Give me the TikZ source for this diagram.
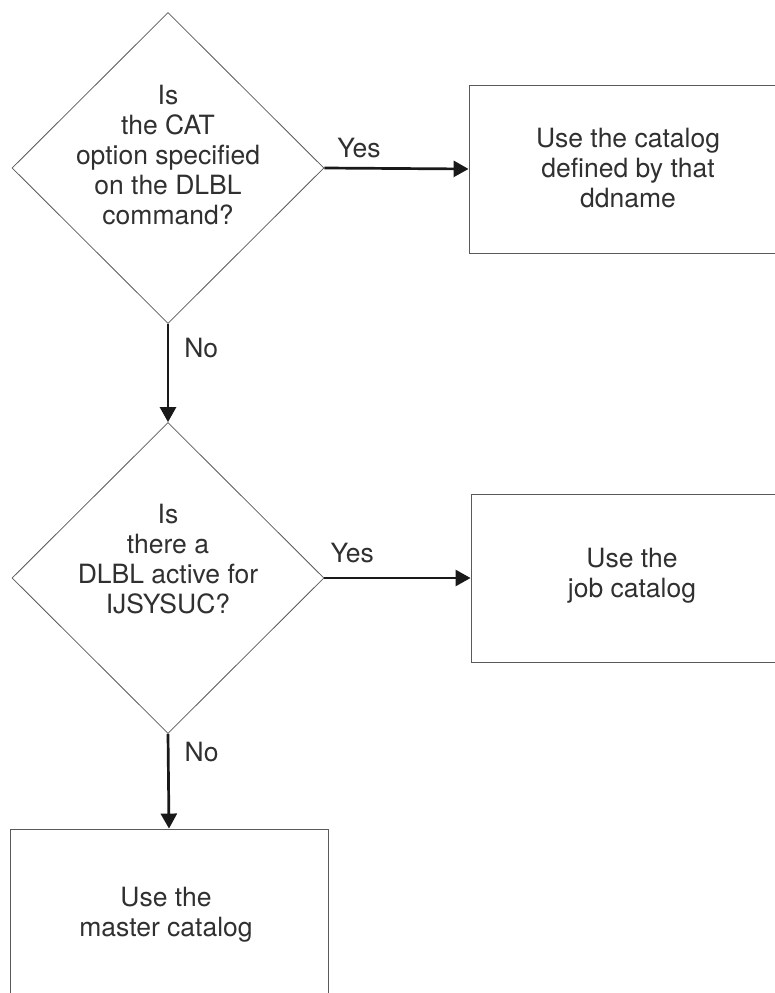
\documentclass[tikz,border=0pt]{standalone}
\usepackage{fontspec}
\setmainfont{TeX Gyre Heros}
\usetikzlibrary{shapes.geometric,arrows.meta}
\definecolor{ink}{HTML}{303030}
\definecolor{frame}{HTML}{5A5A5A}
\tikzset{
  decision/.style={diamond, draw=frame, line width=0.8pt, aspect=1, inner sep=0pt,
    minimum width=312pt, minimum height=311pt},
  action/.style={rectangle, draw=frame, line width=0.9pt, inner sep=0pt,
    minimum width=318pt, minimum height=168pt},
  caption/.style={align=center, text=ink, inner sep=0pt,
    font=\fontsize{26.5}{30}\selectfont},
  flow/.style={draw=black!90, line width=2.7pt,
    -{Triangle[length=15pt,width=16pt]}},
  answer/.style={text=ink, inner sep=0pt, font=\fontsize{26.5}{30}\selectfont}
}
\begin{document}
\begin{tikzpicture}[x=1pt,y=-1pt]
\useasboundingbox (0,0) rectangle (775,993);
\clip (0,0) rectangle (775,993);
\fill[white] (0,0) rectangle (775,993);

% decisions
\node[decision] (catopt) at (168,168) {};
\node[caption] at (168,155) {Is\\the CAT\\option specified\\on the DLBL\\command?};
\node[decision] (ijsys) at (168,578) {};
\node[caption] at (168,559) {Is\\there a\\DLBL active for\\IJSYSUC?};

% actions
\node[action] (ddcat) at (628,169) {};
\node[caption] at (628,168) {Use the catalog\\defined by that\\ddname};
\node[action] (jobcat) at (630,578) {};
\node[caption] at (632,576) {Use the\\job catalog};
\node[action] (mastercat) at (169,913) {};
\node[caption] at (166,915) {Use the\\master catalog};

% connectors
\draw[flow] (catopt.east) -- node[answer, pos=0.24, anchor=base, yshift=10.5pt] {Yes} (ddcat.west);
\draw[flow] (catopt.south) -- node[answer, pos=0.34, anchor=base west, xshift=15pt] {No} (ijsys.north);
\draw[flow] (ijsys.east) -- node[answer, pos=0.19, anchor=base, yshift=15.5pt] {Yes} (jobcat.west);
\draw[flow] (ijsys.south) -- node[answer, pos=0.29, anchor=base west, xshift=15pt] {No} (mastercat.north);
\end{tikzpicture}
\end{document}
